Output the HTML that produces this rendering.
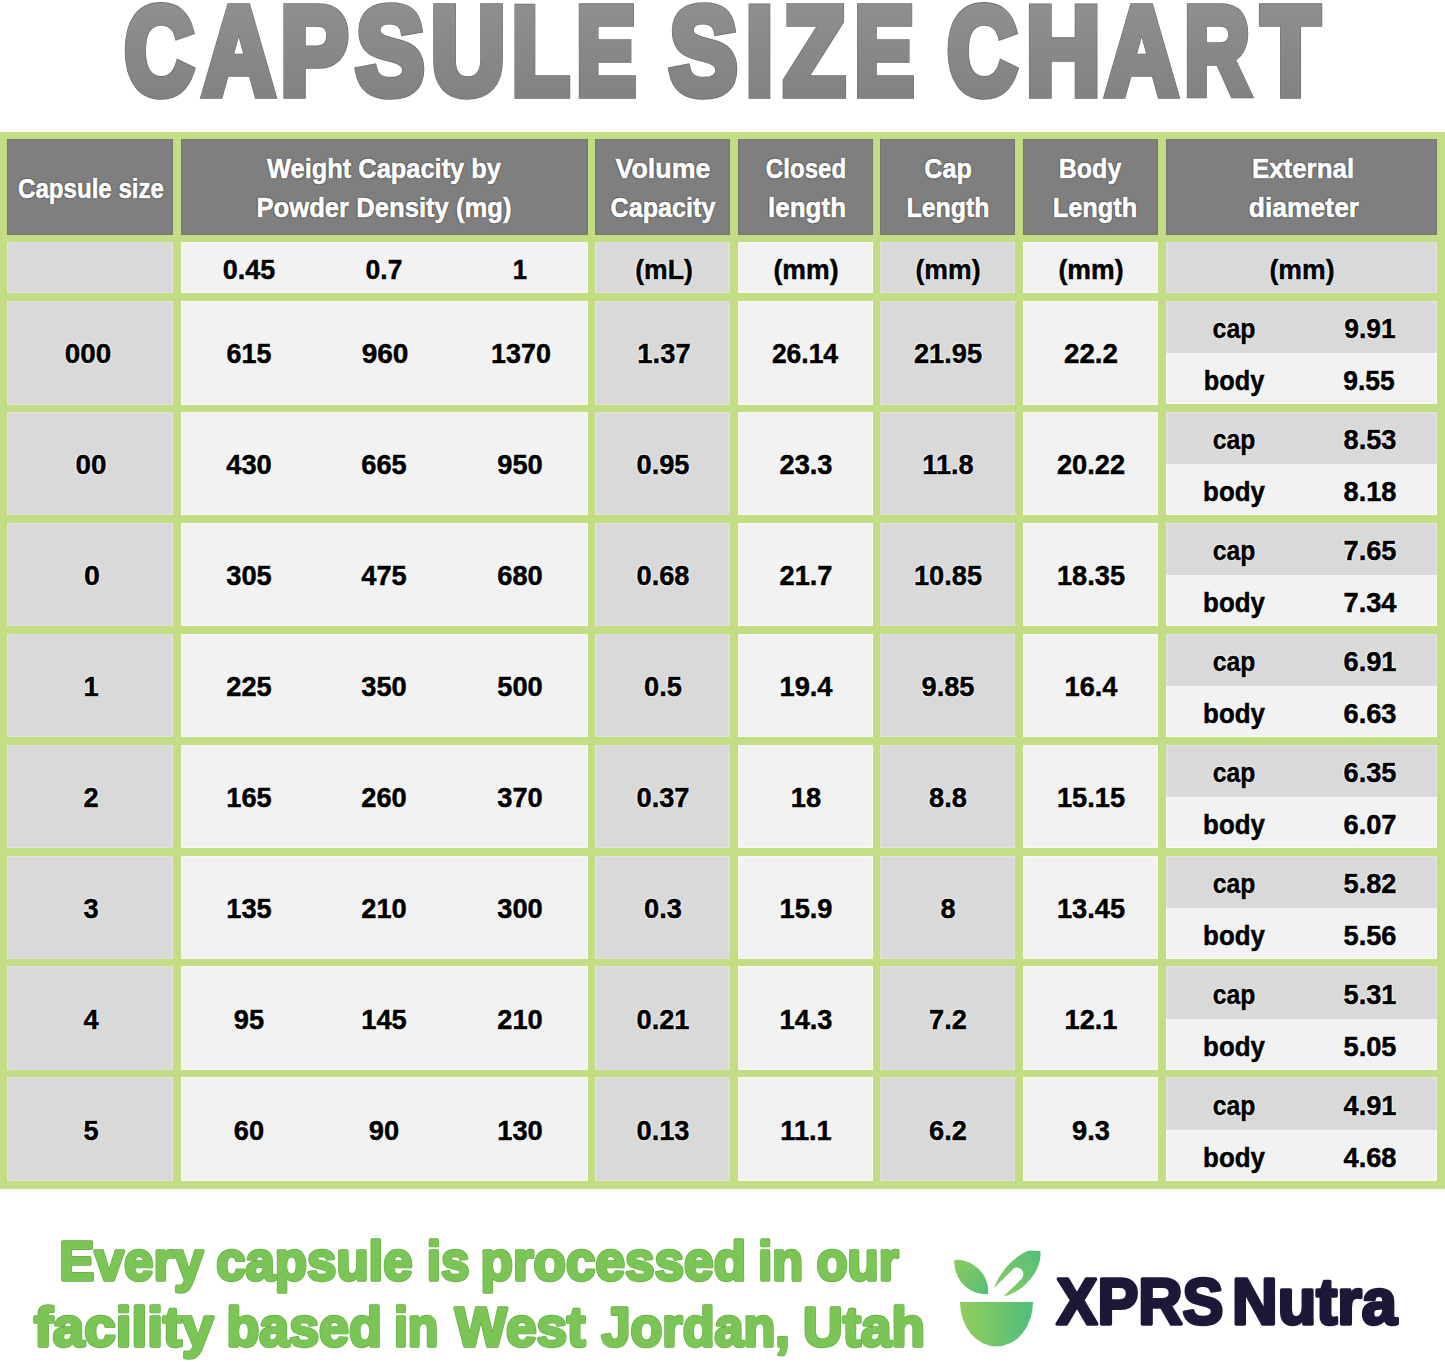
<!DOCTYPE html>
<html><head><meta charset="utf-8">
<style>
html,body{margin:0;padding:0;}
body{width:1445px;height:1362px;background:#fff;position:relative;overflow:hidden;font-family:"Liberation Sans",sans-serif;}
.r{position:absolute;}
.t{position:absolute;width:600px;height:100px;line-height:100px;text-align:center;font-weight:bold;white-space:nowrap;}
.h{color:#fff;-webkit-text-stroke:0.6px #fff;text-shadow:1px 0 1px #505050,-1px 0 1px #505050,0 1px 1px #505050,0 -1px 1px #505050;}
.d{color:#000;-webkit-text-stroke:0.5px #000;text-shadow:1px 0 1px #fff,-1px 0 1px #fff,0 1px 1px #fff,0 -1px 1px #fff;}
.ov{position:absolute;left:0;top:0;}
</style></head><body>
<div class="r" style="left:0.00px;top:132.30px;width:1445.00px;height:1056.70px;background:#c2de84;"></div>
<div class="r" style="left:7.30px;top:139.00px;width:165.70px;height:95.50px;background:#7f7f7f;box-shadow:inset 0 0 0.8px 0.6px #6c7268;"></div>
<div class="r" style="left:180.50px;top:139.00px;width:407.00px;height:95.50px;background:#7f7f7f;box-shadow:inset 0 0 0.8px 0.6px #6c7268;"></div>
<div class="r" style="left:595.00px;top:139.00px;width:135.00px;height:95.50px;background:#7f7f7f;box-shadow:inset 0 0 0.8px 0.6px #6c7268;"></div>
<div class="r" style="left:737.50px;top:139.00px;width:135.50px;height:95.50px;background:#7f7f7f;box-shadow:inset 0 0 0.8px 0.6px #6c7268;"></div>
<div class="r" style="left:880.00px;top:139.00px;width:135.00px;height:95.50px;background:#7f7f7f;box-shadow:inset 0 0 0.8px 0.6px #6c7268;"></div>
<div class="r" style="left:1023.00px;top:139.00px;width:135.00px;height:95.50px;background:#7f7f7f;box-shadow:inset 0 0 0.8px 0.6px #6c7268;"></div>
<div class="r" style="left:1165.70px;top:139.00px;width:271.00px;height:95.50px;background:#7f7f7f;box-shadow:inset 0 0 0.8px 0.6px #6c7268;"></div>
<div class="r" style="left:7.30px;top:241.50px;width:165.70px;height:51.50px;background:#d9d9d9;box-shadow:inset 0 0 1px 0.8px #e3e6dc;"></div>
<div class="r" style="left:180.50px;top:241.50px;width:407.00px;height:51.50px;background:#f2f2f2;box-shadow:inset 0 0 1px 0.8px #fafdf2;"></div>
<div class="r" style="left:595.00px;top:241.50px;width:135.00px;height:51.50px;background:#d9d9d9;box-shadow:inset 0 0 1px 0.8px #e3e6dc;"></div>
<div class="r" style="left:737.50px;top:241.50px;width:135.50px;height:51.50px;background:#f2f2f2;box-shadow:inset 0 0 1px 0.8px #fafdf2;"></div>
<div class="r" style="left:880.00px;top:241.50px;width:135.00px;height:51.50px;background:#d9d9d9;box-shadow:inset 0 0 1px 0.8px #e3e6dc;"></div>
<div class="r" style="left:1023.00px;top:241.50px;width:135.00px;height:51.50px;background:#f2f2f2;box-shadow:inset 0 0 1px 0.8px #fafdf2;"></div>
<div class="r" style="left:1165.70px;top:241.50px;width:271.00px;height:51.50px;background:#d9d9d9;box-shadow:inset 0 0 1px 0.8px #e3e6dc;"></div>
<div class="r" style="left:7.30px;top:301.00px;width:165.70px;height:103.50px;background:#d9d9d9;box-shadow:inset 0 0 1px 0.8px #e3e6dc;"></div>
<div class="r" style="left:180.50px;top:301.00px;width:407.00px;height:103.50px;background:#f2f2f2;box-shadow:inset 0 0 1px 0.8px #fafdf2;"></div>
<div class="r" style="left:595.00px;top:301.00px;width:135.00px;height:103.50px;background:#d9d9d9;box-shadow:inset 0 0 1px 0.8px #e3e6dc;"></div>
<div class="r" style="left:737.50px;top:301.00px;width:135.50px;height:103.50px;background:#f2f2f2;box-shadow:inset 0 0 1px 0.8px #fafdf2;"></div>
<div class="r" style="left:880.00px;top:301.00px;width:135.00px;height:103.50px;background:#d9d9d9;box-shadow:inset 0 0 1px 0.8px #e3e6dc;"></div>
<div class="r" style="left:1023.00px;top:301.00px;width:135.00px;height:103.50px;background:#f2f2f2;box-shadow:inset 0 0 1px 0.8px #fafdf2;"></div>
<div class="r" style="left:1165.70px;top:301.00px;width:271.00px;height:52.35px;background:#d9d9d9;box-shadow:inset 1px 1px 1px 0px #e3e6dc,inset -1px 0 1px 0px #e3e6dc;"></div>
<div class="r" style="left:1165.70px;top:353.35px;width:271.00px;height:51.15px;background:#f2f2f2;box-shadow:inset 1px -1px 1px 0px #fafdf2,inset -1px 0 1px 0px #fafdf2;"></div>
<div class="r" style="left:7.30px;top:411.90px;width:165.70px;height:103.50px;background:#d9d9d9;box-shadow:inset 0 0 1px 0.8px #e3e6dc;"></div>
<div class="r" style="left:180.50px;top:411.90px;width:407.00px;height:103.50px;background:#f2f2f2;box-shadow:inset 0 0 1px 0.8px #fafdf2;"></div>
<div class="r" style="left:595.00px;top:411.90px;width:135.00px;height:103.50px;background:#d9d9d9;box-shadow:inset 0 0 1px 0.8px #e3e6dc;"></div>
<div class="r" style="left:737.50px;top:411.90px;width:135.50px;height:103.50px;background:#f2f2f2;box-shadow:inset 0 0 1px 0.8px #fafdf2;"></div>
<div class="r" style="left:880.00px;top:411.90px;width:135.00px;height:103.50px;background:#d9d9d9;box-shadow:inset 0 0 1px 0.8px #e3e6dc;"></div>
<div class="r" style="left:1023.00px;top:411.90px;width:135.00px;height:103.50px;background:#f2f2f2;box-shadow:inset 0 0 1px 0.8px #fafdf2;"></div>
<div class="r" style="left:1165.70px;top:411.90px;width:271.00px;height:52.35px;background:#d9d9d9;box-shadow:inset 1px 1px 1px 0px #e3e6dc,inset -1px 0 1px 0px #e3e6dc;"></div>
<div class="r" style="left:1165.70px;top:464.25px;width:271.00px;height:51.15px;background:#f2f2f2;box-shadow:inset 1px -1px 1px 0px #fafdf2,inset -1px 0 1px 0px #fafdf2;"></div>
<div class="r" style="left:7.30px;top:522.80px;width:165.70px;height:103.50px;background:#d9d9d9;box-shadow:inset 0 0 1px 0.8px #e3e6dc;"></div>
<div class="r" style="left:180.50px;top:522.80px;width:407.00px;height:103.50px;background:#f2f2f2;box-shadow:inset 0 0 1px 0.8px #fafdf2;"></div>
<div class="r" style="left:595.00px;top:522.80px;width:135.00px;height:103.50px;background:#d9d9d9;box-shadow:inset 0 0 1px 0.8px #e3e6dc;"></div>
<div class="r" style="left:737.50px;top:522.80px;width:135.50px;height:103.50px;background:#f2f2f2;box-shadow:inset 0 0 1px 0.8px #fafdf2;"></div>
<div class="r" style="left:880.00px;top:522.80px;width:135.00px;height:103.50px;background:#d9d9d9;box-shadow:inset 0 0 1px 0.8px #e3e6dc;"></div>
<div class="r" style="left:1023.00px;top:522.80px;width:135.00px;height:103.50px;background:#f2f2f2;box-shadow:inset 0 0 1px 0.8px #fafdf2;"></div>
<div class="r" style="left:1165.70px;top:522.80px;width:271.00px;height:52.35px;background:#d9d9d9;box-shadow:inset 1px 1px 1px 0px #e3e6dc,inset -1px 0 1px 0px #e3e6dc;"></div>
<div class="r" style="left:1165.70px;top:575.15px;width:271.00px;height:51.15px;background:#f2f2f2;box-shadow:inset 1px -1px 1px 0px #fafdf2,inset -1px 0 1px 0px #fafdf2;"></div>
<div class="r" style="left:7.30px;top:633.70px;width:165.70px;height:103.50px;background:#d9d9d9;box-shadow:inset 0 0 1px 0.8px #e3e6dc;"></div>
<div class="r" style="left:180.50px;top:633.70px;width:407.00px;height:103.50px;background:#f2f2f2;box-shadow:inset 0 0 1px 0.8px #fafdf2;"></div>
<div class="r" style="left:595.00px;top:633.70px;width:135.00px;height:103.50px;background:#d9d9d9;box-shadow:inset 0 0 1px 0.8px #e3e6dc;"></div>
<div class="r" style="left:737.50px;top:633.70px;width:135.50px;height:103.50px;background:#f2f2f2;box-shadow:inset 0 0 1px 0.8px #fafdf2;"></div>
<div class="r" style="left:880.00px;top:633.70px;width:135.00px;height:103.50px;background:#d9d9d9;box-shadow:inset 0 0 1px 0.8px #e3e6dc;"></div>
<div class="r" style="left:1023.00px;top:633.70px;width:135.00px;height:103.50px;background:#f2f2f2;box-shadow:inset 0 0 1px 0.8px #fafdf2;"></div>
<div class="r" style="left:1165.70px;top:633.70px;width:271.00px;height:52.35px;background:#d9d9d9;box-shadow:inset 1px 1px 1px 0px #e3e6dc,inset -1px 0 1px 0px #e3e6dc;"></div>
<div class="r" style="left:1165.70px;top:686.05px;width:271.00px;height:51.15px;background:#f2f2f2;box-shadow:inset 1px -1px 1px 0px #fafdf2,inset -1px 0 1px 0px #fafdf2;"></div>
<div class="r" style="left:7.30px;top:744.60px;width:165.70px;height:103.50px;background:#d9d9d9;box-shadow:inset 0 0 1px 0.8px #e3e6dc;"></div>
<div class="r" style="left:180.50px;top:744.60px;width:407.00px;height:103.50px;background:#f2f2f2;box-shadow:inset 0 0 1px 0.8px #fafdf2;"></div>
<div class="r" style="left:595.00px;top:744.60px;width:135.00px;height:103.50px;background:#d9d9d9;box-shadow:inset 0 0 1px 0.8px #e3e6dc;"></div>
<div class="r" style="left:737.50px;top:744.60px;width:135.50px;height:103.50px;background:#f2f2f2;box-shadow:inset 0 0 1px 0.8px #fafdf2;"></div>
<div class="r" style="left:880.00px;top:744.60px;width:135.00px;height:103.50px;background:#d9d9d9;box-shadow:inset 0 0 1px 0.8px #e3e6dc;"></div>
<div class="r" style="left:1023.00px;top:744.60px;width:135.00px;height:103.50px;background:#f2f2f2;box-shadow:inset 0 0 1px 0.8px #fafdf2;"></div>
<div class="r" style="left:1165.70px;top:744.60px;width:271.00px;height:52.35px;background:#d9d9d9;box-shadow:inset 1px 1px 1px 0px #e3e6dc,inset -1px 0 1px 0px #e3e6dc;"></div>
<div class="r" style="left:1165.70px;top:796.95px;width:271.00px;height:51.15px;background:#f2f2f2;box-shadow:inset 1px -1px 1px 0px #fafdf2,inset -1px 0 1px 0px #fafdf2;"></div>
<div class="r" style="left:7.30px;top:855.50px;width:165.70px;height:103.50px;background:#d9d9d9;box-shadow:inset 0 0 1px 0.8px #e3e6dc;"></div>
<div class="r" style="left:180.50px;top:855.50px;width:407.00px;height:103.50px;background:#f2f2f2;box-shadow:inset 0 0 1px 0.8px #fafdf2;"></div>
<div class="r" style="left:595.00px;top:855.50px;width:135.00px;height:103.50px;background:#d9d9d9;box-shadow:inset 0 0 1px 0.8px #e3e6dc;"></div>
<div class="r" style="left:737.50px;top:855.50px;width:135.50px;height:103.50px;background:#f2f2f2;box-shadow:inset 0 0 1px 0.8px #fafdf2;"></div>
<div class="r" style="left:880.00px;top:855.50px;width:135.00px;height:103.50px;background:#d9d9d9;box-shadow:inset 0 0 1px 0.8px #e3e6dc;"></div>
<div class="r" style="left:1023.00px;top:855.50px;width:135.00px;height:103.50px;background:#f2f2f2;box-shadow:inset 0 0 1px 0.8px #fafdf2;"></div>
<div class="r" style="left:1165.70px;top:855.50px;width:271.00px;height:52.35px;background:#d9d9d9;box-shadow:inset 1px 1px 1px 0px #e3e6dc,inset -1px 0 1px 0px #e3e6dc;"></div>
<div class="r" style="left:1165.70px;top:907.85px;width:271.00px;height:51.15px;background:#f2f2f2;box-shadow:inset 1px -1px 1px 0px #fafdf2,inset -1px 0 1px 0px #fafdf2;"></div>
<div class="r" style="left:7.30px;top:966.40px;width:165.70px;height:103.50px;background:#d9d9d9;box-shadow:inset 0 0 1px 0.8px #e3e6dc;"></div>
<div class="r" style="left:180.50px;top:966.40px;width:407.00px;height:103.50px;background:#f2f2f2;box-shadow:inset 0 0 1px 0.8px #fafdf2;"></div>
<div class="r" style="left:595.00px;top:966.40px;width:135.00px;height:103.50px;background:#d9d9d9;box-shadow:inset 0 0 1px 0.8px #e3e6dc;"></div>
<div class="r" style="left:737.50px;top:966.40px;width:135.50px;height:103.50px;background:#f2f2f2;box-shadow:inset 0 0 1px 0.8px #fafdf2;"></div>
<div class="r" style="left:880.00px;top:966.40px;width:135.00px;height:103.50px;background:#d9d9d9;box-shadow:inset 0 0 1px 0.8px #e3e6dc;"></div>
<div class="r" style="left:1023.00px;top:966.40px;width:135.00px;height:103.50px;background:#f2f2f2;box-shadow:inset 0 0 1px 0.8px #fafdf2;"></div>
<div class="r" style="left:1165.70px;top:966.40px;width:271.00px;height:52.35px;background:#d9d9d9;box-shadow:inset 1px 1px 1px 0px #e3e6dc,inset -1px 0 1px 0px #e3e6dc;"></div>
<div class="r" style="left:1165.70px;top:1018.75px;width:271.00px;height:51.15px;background:#f2f2f2;box-shadow:inset 1px -1px 1px 0px #fafdf2,inset -1px 0 1px 0px #fafdf2;"></div>
<div class="r" style="left:7.30px;top:1077.30px;width:165.70px;height:103.50px;background:#d9d9d9;box-shadow:inset 0 0 1px 0.8px #e3e6dc;"></div>
<div class="r" style="left:180.50px;top:1077.30px;width:407.00px;height:103.50px;background:#f2f2f2;box-shadow:inset 0 0 1px 0.8px #fafdf2;"></div>
<div class="r" style="left:595.00px;top:1077.30px;width:135.00px;height:103.50px;background:#d9d9d9;box-shadow:inset 0 0 1px 0.8px #e3e6dc;"></div>
<div class="r" style="left:737.50px;top:1077.30px;width:135.50px;height:103.50px;background:#f2f2f2;box-shadow:inset 0 0 1px 0.8px #fafdf2;"></div>
<div class="r" style="left:880.00px;top:1077.30px;width:135.00px;height:103.50px;background:#d9d9d9;box-shadow:inset 0 0 1px 0.8px #e3e6dc;"></div>
<div class="r" style="left:1023.00px;top:1077.30px;width:135.00px;height:103.50px;background:#f2f2f2;box-shadow:inset 0 0 1px 0.8px #fafdf2;"></div>
<div class="r" style="left:1165.70px;top:1077.30px;width:271.00px;height:52.35px;background:#d9d9d9;box-shadow:inset 1px 1px 1px 0px #e3e6dc,inset -1px 0 1px 0px #e3e6dc;"></div>
<div class="r" style="left:1165.70px;top:1129.65px;width:271.00px;height:51.15px;background:#f2f2f2;box-shadow:inset 1px -1px 1px 0px #fafdf2,inset -1px 0 1px 0px #fafdf2;"></div>
<div class="t h" style="left:-209.20px;top:138.70px;font-size:28px;transform:scaleX(0.8600)">Capsule size</div>
<div class="t h" style="left:84.35px;top:118.60px;font-size:28px;transform:scaleX(0.9074)">Weight Capacity by</div>
<div class="t h" style="left:84.15px;top:158.10px;font-size:28px;transform:scaleX(0.9157)">Powder Density (mg)</div>
<div class="t h" style="left:363.00px;top:118.60px;font-size:28px;transform:scaleX(0.9574)">Volume</div>
<div class="t h" style="left:362.65px;top:158.10px;font-size:28px;transform:scaleX(0.8977)">Capacity</div>
<div class="t h" style="left:505.80px;top:118.60px;font-size:28px;transform:scaleX(0.8613)">Closed</div>
<div class="t h" style="left:506.55px;top:158.10px;font-size:28px;transform:scaleX(0.9303)">length</div>
<div class="t h" style="left:648.25px;top:118.60px;font-size:28px;transform:scaleX(0.9000)">Cap</div>
<div class="t h" style="left:647.90px;top:158.10px;font-size:28px;transform:scaleX(0.8896)">Length</div>
<div class="t h" style="left:790.20px;top:118.60px;font-size:28px;transform:scaleX(0.8944)">Body</div>
<div class="t h" style="left:794.70px;top:158.10px;font-size:28px;transform:scaleX(0.9071)">Length</div>
<div class="t h" style="left:1002.70px;top:118.60px;font-size:28px;transform:scaleX(0.9248)">External</div>
<div class="t h" style="left:1003.95px;top:158.10px;font-size:28px;transform:scaleX(0.9448)">diameter</div>
<div class="t d" style="left:-51.00px;top:220.20px;font-size:27.5px;transform:scaleX(0.9792)">0.45</div>
<div class="t d" style="left:83.95px;top:220.20px;font-size:27.5px;transform:scaleX(0.9645)">0.7</div>
<div class="t d" style="left:220.05px;top:220.20px;font-size:27.5px;transform:scaleX(0.9355)">1</div>
<div class="t d" style="left:364.30px;top:220.20px;font-size:27.5px;transform:scaleX(0.9647)">(mL)</div>
<div class="t d" style="left:505.75px;top:220.20px;font-size:27.5px;transform:scaleX(0.9670)">(mm)</div>
<div class="t d" style="left:648.00px;top:220.20px;font-size:27.5px;transform:scaleX(0.9670)">(mm)</div>
<div class="t d" style="left:791.00px;top:220.20px;font-size:27.5px;transform:scaleX(0.9670)">(mm)</div>
<div class="t d" style="left:1001.70px;top:220.20px;font-size:27.5px;transform:scaleX(0.9670)">(mm)</div>
<div class="t d" style="left:-212.00px;top:304.35px;font-size:27.5px;transform:scaleX(1.0113)">000</div>
<div class="t d" style="left:-51.45px;top:304.35px;font-size:27.5px;transform:scaleX(0.9776)">615</div>
<div class="t d" style="left:85.05px;top:304.35px;font-size:27.5px;transform:scaleX(1.0182)">960</div>
<div class="t d" style="left:220.70px;top:304.35px;font-size:27.5px;transform:scaleX(0.9774)">1370</div>
<div class="t d" style="left:364.10px;top:304.35px;font-size:27.5px;transform:scaleX(0.9955)">1.37</div>
<div class="t d" style="left:505.30px;top:304.35px;font-size:27.5px;transform:scaleX(0.9616)">26.14</div>
<div class="t d" style="left:648.25px;top:304.35px;font-size:27.5px;transform:scaleX(0.9893)">21.95</div>
<div class="t d" style="left:791.30px;top:304.35px;font-size:27.5px;transform:scaleX(1.0106)">22.2</div>
<div class="t d" style="left:934.35px;top:279.38px;font-size:27.5px;transform:scaleX(0.9021)">cap</div>
<div class="t d" style="left:1070.00px;top:279.38px;font-size:27.5px;transform:scaleX(0.9600)">9.91</div>
<div class="t d" style="left:934.00px;top:331.23px;font-size:27.5px;transform:scaleX(0.9197)">body</div>
<div class="t d" style="left:1069.00px;top:331.23px;font-size:27.5px;transform:scaleX(0.9607)">9.55</div>
<div class="t d" style="left:-208.90px;top:415.25px;font-size:27.5px;transform:scaleX(1.0084)">00</div>
<div class="t d" style="left:-50.80px;top:415.25px;font-size:27.5px;transform:scaleX(0.9900)">430</div>
<div class="t d" style="left:84.30px;top:415.25px;font-size:27.5px;transform:scaleX(0.9900)">665</div>
<div class="t d" style="left:220.20px;top:415.25px;font-size:27.5px;transform:scaleX(0.9900)">950</div>
<div class="t d" style="left:363.00px;top:415.25px;font-size:27.5px;transform:scaleX(0.9900)">0.95</div>
<div class="t d" style="left:505.75px;top:415.25px;font-size:27.5px;transform:scaleX(0.9900)">23.3</div>
<div class="t d" style="left:648.00px;top:415.25px;font-size:27.5px;transform:scaleX(0.9900)">11.8</div>
<div class="t d" style="left:791.00px;top:415.25px;font-size:27.5px;transform:scaleX(0.9900)">20.22</div>
<div class="t d" style="left:934.40px;top:390.27px;font-size:27.5px;transform:scaleX(0.8970)">cap</div>
<div class="t d" style="left:1070.00px;top:390.27px;font-size:27.5px;transform:scaleX(0.9900)">8.53</div>
<div class="t d" style="left:933.50px;top:442.12px;font-size:27.5px;transform:scaleX(0.9410)">body</div>
<div class="t d" style="left:1070.00px;top:442.12px;font-size:27.5px;transform:scaleX(0.9900)">8.18</div>
<div class="t d" style="left:-208.05px;top:526.15px;font-size:27.5px;transform:scaleX(1.0392)">0</div>
<div class="t d" style="left:-50.80px;top:526.15px;font-size:27.5px;transform:scaleX(0.9900)">305</div>
<div class="t d" style="left:84.30px;top:526.15px;font-size:27.5px;transform:scaleX(0.9900)">475</div>
<div class="t d" style="left:220.20px;top:526.15px;font-size:27.5px;transform:scaleX(0.9900)">680</div>
<div class="t d" style="left:363.00px;top:526.15px;font-size:27.5px;transform:scaleX(0.9900)">0.68</div>
<div class="t d" style="left:505.75px;top:526.15px;font-size:27.5px;transform:scaleX(0.9900)">21.7</div>
<div class="t d" style="left:648.00px;top:526.15px;font-size:27.5px;transform:scaleX(0.9900)">10.85</div>
<div class="t d" style="left:791.00px;top:526.15px;font-size:27.5px;transform:scaleX(0.9900)">18.35</div>
<div class="t d" style="left:934.40px;top:501.17px;font-size:27.5px;transform:scaleX(0.8970)">cap</div>
<div class="t d" style="left:1070.00px;top:501.17px;font-size:27.5px;transform:scaleX(0.9900)">7.65</div>
<div class="t d" style="left:933.50px;top:553.02px;font-size:27.5px;transform:scaleX(0.9410)">body</div>
<div class="t d" style="left:1070.00px;top:553.02px;font-size:27.5px;transform:scaleX(0.9900)">7.34</div>
<div class="t d" style="left:-208.85px;top:637.05px;font-size:27.5px;transform:scaleX(0.9900)">1</div>
<div class="t d" style="left:-50.80px;top:637.05px;font-size:27.5px;transform:scaleX(0.9900)">225</div>
<div class="t d" style="left:84.30px;top:637.05px;font-size:27.5px;transform:scaleX(0.9900)">350</div>
<div class="t d" style="left:220.20px;top:637.05px;font-size:27.5px;transform:scaleX(0.9900)">500</div>
<div class="t d" style="left:363.00px;top:637.05px;font-size:27.5px;transform:scaleX(0.9900)">0.5</div>
<div class="t d" style="left:505.75px;top:637.05px;font-size:27.5px;transform:scaleX(0.9900)">19.4</div>
<div class="t d" style="left:648.00px;top:637.05px;font-size:27.5px;transform:scaleX(0.9900)">9.85</div>
<div class="t d" style="left:791.00px;top:637.05px;font-size:27.5px;transform:scaleX(0.9900)">16.4</div>
<div class="t d" style="left:934.40px;top:612.08px;font-size:27.5px;transform:scaleX(0.8970)">cap</div>
<div class="t d" style="left:1070.00px;top:612.08px;font-size:27.5px;transform:scaleX(0.9900)">6.91</div>
<div class="t d" style="left:933.50px;top:663.93px;font-size:27.5px;transform:scaleX(0.9410)">body</div>
<div class="t d" style="left:1070.00px;top:663.93px;font-size:27.5px;transform:scaleX(0.9900)">6.63</div>
<div class="t d" style="left:-208.85px;top:747.95px;font-size:27.5px;transform:scaleX(0.9900)">2</div>
<div class="t d" style="left:-50.80px;top:747.95px;font-size:27.5px;transform:scaleX(0.9900)">165</div>
<div class="t d" style="left:84.30px;top:747.95px;font-size:27.5px;transform:scaleX(0.9900)">260</div>
<div class="t d" style="left:220.20px;top:747.95px;font-size:27.5px;transform:scaleX(0.9900)">370</div>
<div class="t d" style="left:363.00px;top:747.95px;font-size:27.5px;transform:scaleX(0.9900)">0.37</div>
<div class="t d" style="left:505.75px;top:747.95px;font-size:27.5px;transform:scaleX(0.9900)">18</div>
<div class="t d" style="left:648.00px;top:747.95px;font-size:27.5px;transform:scaleX(0.9900)">8.8</div>
<div class="t d" style="left:791.00px;top:747.95px;font-size:27.5px;transform:scaleX(0.9900)">15.15</div>
<div class="t d" style="left:934.40px;top:722.98px;font-size:27.5px;transform:scaleX(0.8970)">cap</div>
<div class="t d" style="left:1070.00px;top:722.98px;font-size:27.5px;transform:scaleX(0.9900)">6.35</div>
<div class="t d" style="left:933.50px;top:774.83px;font-size:27.5px;transform:scaleX(0.9410)">body</div>
<div class="t d" style="left:1070.00px;top:774.83px;font-size:27.5px;transform:scaleX(0.9900)">6.07</div>
<div class="t d" style="left:-208.85px;top:858.85px;font-size:27.5px;transform:scaleX(0.9900)">3</div>
<div class="t d" style="left:-50.80px;top:858.85px;font-size:27.5px;transform:scaleX(0.9900)">135</div>
<div class="t d" style="left:84.30px;top:858.85px;font-size:27.5px;transform:scaleX(0.9900)">210</div>
<div class="t d" style="left:220.20px;top:858.85px;font-size:27.5px;transform:scaleX(0.9900)">300</div>
<div class="t d" style="left:363.00px;top:858.85px;font-size:27.5px;transform:scaleX(0.9900)">0.3</div>
<div class="t d" style="left:505.75px;top:858.85px;font-size:27.5px;transform:scaleX(0.9900)">15.9</div>
<div class="t d" style="left:648.00px;top:858.85px;font-size:27.5px;transform:scaleX(0.9900)">8</div>
<div class="t d" style="left:791.00px;top:858.85px;font-size:27.5px;transform:scaleX(0.9900)">13.45</div>
<div class="t d" style="left:934.40px;top:833.88px;font-size:27.5px;transform:scaleX(0.8970)">cap</div>
<div class="t d" style="left:1070.00px;top:833.88px;font-size:27.5px;transform:scaleX(0.9900)">5.82</div>
<div class="t d" style="left:933.50px;top:885.73px;font-size:27.5px;transform:scaleX(0.9410)">body</div>
<div class="t d" style="left:1070.00px;top:885.73px;font-size:27.5px;transform:scaleX(0.9900)">5.56</div>
<div class="t d" style="left:-208.85px;top:969.75px;font-size:27.5px;transform:scaleX(0.9900)">4</div>
<div class="t d" style="left:-50.80px;top:969.75px;font-size:27.5px;transform:scaleX(0.9900)">95</div>
<div class="t d" style="left:84.30px;top:969.75px;font-size:27.5px;transform:scaleX(0.9900)">145</div>
<div class="t d" style="left:220.20px;top:969.75px;font-size:27.5px;transform:scaleX(0.9900)">210</div>
<div class="t d" style="left:363.00px;top:969.75px;font-size:27.5px;transform:scaleX(0.9900)">0.21</div>
<div class="t d" style="left:505.75px;top:969.75px;font-size:27.5px;transform:scaleX(0.9900)">14.3</div>
<div class="t d" style="left:648.00px;top:969.75px;font-size:27.5px;transform:scaleX(0.9900)">7.2</div>
<div class="t d" style="left:791.00px;top:969.75px;font-size:27.5px;transform:scaleX(0.9900)">12.1</div>
<div class="t d" style="left:934.40px;top:944.78px;font-size:27.5px;transform:scaleX(0.8970)">cap</div>
<div class="t d" style="left:1070.00px;top:944.78px;font-size:27.5px;transform:scaleX(0.9900)">5.31</div>
<div class="t d" style="left:933.50px;top:996.62px;font-size:27.5px;transform:scaleX(0.9410)">body</div>
<div class="t d" style="left:1070.00px;top:996.62px;font-size:27.5px;transform:scaleX(0.9900)">5.05</div>
<div class="t d" style="left:-208.85px;top:1080.65px;font-size:27.5px;transform:scaleX(0.9900)">5</div>
<div class="t d" style="left:-50.80px;top:1080.65px;font-size:27.5px;transform:scaleX(0.9900)">60</div>
<div class="t d" style="left:84.30px;top:1080.65px;font-size:27.5px;transform:scaleX(0.9900)">90</div>
<div class="t d" style="left:220.20px;top:1080.65px;font-size:27.5px;transform:scaleX(0.9900)">130</div>
<div class="t d" style="left:363.00px;top:1080.65px;font-size:27.5px;transform:scaleX(0.9900)">0.13</div>
<div class="t d" style="left:505.75px;top:1080.65px;font-size:27.5px;transform:scaleX(0.9900)">11.1</div>
<div class="t d" style="left:648.00px;top:1080.65px;font-size:27.5px;transform:scaleX(0.9900)">6.2</div>
<div class="t d" style="left:791.00px;top:1080.65px;font-size:27.5px;transform:scaleX(0.9900)">9.3</div>
<div class="t d" style="left:934.40px;top:1055.68px;font-size:27.5px;transform:scaleX(0.8970)">cap</div>
<div class="t d" style="left:1070.00px;top:1055.68px;font-size:27.5px;transform:scaleX(0.9900)">4.91</div>
<div class="t d" style="left:933.50px;top:1107.53px;font-size:27.5px;transform:scaleX(0.9410)">body</div>
<div class="t d" style="left:1070.00px;top:1107.53px;font-size:27.5px;transform:scaleX(0.9900)">4.68</div>
<svg class="ov" width="1445" height="1362" viewBox="0 0 1445 1362">
<defs>
<linearGradient id="tg" gradientUnits="userSpaceOnUse" x1="0" y1="-92" x2="0" y2="4"><stop offset="0" stop-color="#8f8f8f"/><stop offset="1" stop-color="#828282"/></linearGradient>
<linearGradient id="lg" x1="0" y1="0" x2="1" y2="0">
<stop offset="0" stop-color="#93cd5b"/><stop offset="1" stop-color="#4fbe7c"/>
</linearGradient>
<linearGradient id="lg2" x1="0" y1="0" x2="1" y2="1">
<stop offset="0" stop-color="#8fcc5c"/><stop offset="1" stop-color="#52bf7a"/>
</linearGradient>
<linearGradient id="lg3" x1="0" y1="1" x2="1" y2="0">
<stop offset="0" stop-color="#8fcc5c"/><stop offset="1" stop-color="#52bf7a"/>
</linearGradient>
</defs>
<g font-family="Liberation Sans" font-weight="bold" fill="#6f6f6f" stroke="#6f6f6f" stroke-width="9.6" stroke-linejoin="miter" style="vector-effect:non-scaling-stroke"><text transform="translate(124.57,94.30) scale(0.7651,1)" font-size="125.15">C</text><text transform="translate(202.82,94.30) scale(0.7956,1)" font-size="125.15">A</text><text transform="translate(280.52,94.30) scale(0.8105,1)" font-size="125.15">P</text><text transform="translate(356.05,94.30) scale(0.8189,1)" font-size="125.15">S</text><text transform="translate(431.03,94.30) scale(0.8216,1)" font-size="125.15">U</text><text transform="translate(511.68,94.30) scale(0.7552,1)" font-size="125.15">L</text><text transform="translate(576.31,94.30) scale(0.7150,1)" font-size="125.15">E</text><text transform="translate(669.47,94.30) scale(0.8136,1)" font-size="125.15">S</text><text transform="translate(745.81,94.30) scale(0.7877,1)" font-size="125.15">I</text><text transform="translate(783.50,94.30) scale(0.8059,1)" font-size="125.15">Z</text><text transform="translate(854.43,94.30) scale(0.7136,1)" font-size="125.15">E</text><text transform="translate(947.24,94.30) scale(0.7712,1)" font-size="125.15">C</text><text transform="translate(1026.00,94.30) scale(0.8237,1)" font-size="125.15">H</text><text transform="translate(1105.72,94.30) scale(0.7944,1)" font-size="125.15">A</text><text transform="translate(1184.33,94.30) scale(0.7251,1)" font-size="125.15">R</text><text transform="translate(1261.53,94.30) scale(0.7599,1)" font-size="125.15">T</text></g><g font-family="Liberation Sans" font-weight="bold" fill="url(#tg)" stroke="url(#tg)" stroke-width="8" stroke-linejoin="miter" style="vector-effect:non-scaling-stroke"><text transform="translate(124.57,94.30) scale(0.7651,1)" font-size="125.15">C</text><text transform="translate(202.82,94.30) scale(0.7956,1)" font-size="125.15">A</text><text transform="translate(280.52,94.30) scale(0.8105,1)" font-size="125.15">P</text><text transform="translate(356.05,94.30) scale(0.8189,1)" font-size="125.15">S</text><text transform="translate(431.03,94.30) scale(0.8216,1)" font-size="125.15">U</text><text transform="translate(511.68,94.30) scale(0.7552,1)" font-size="125.15">L</text><text transform="translate(576.31,94.30) scale(0.7150,1)" font-size="125.15">E</text><text transform="translate(669.47,94.30) scale(0.8136,1)" font-size="125.15">S</text><text transform="translate(745.81,94.30) scale(0.7877,1)" font-size="125.15">I</text><text transform="translate(783.50,94.30) scale(0.8059,1)" font-size="125.15">Z</text><text transform="translate(854.43,94.30) scale(0.7136,1)" font-size="125.15">E</text><text transform="translate(947.24,94.30) scale(0.7712,1)" font-size="125.15">C</text><text transform="translate(1026.00,94.30) scale(0.8237,1)" font-size="125.15">H</text><text transform="translate(1105.72,94.30) scale(0.7944,1)" font-size="125.15">A</text><text transform="translate(1184.33,94.30) scale(0.7251,1)" font-size="125.15">R</text><text transform="translate(1261.53,94.30) scale(0.7599,1)" font-size="125.15">T</text></g>
<g font-family="Liberation Sans" font-weight="bold" font-size="55.5" fill="#62ad42" stroke="#62ad42" stroke-width="3.4" stroke-linejoin="round"><text x="59.30" y="1280.25" textLength="144.11" lengthAdjust="spacingAndGlyphs">Every</text><text x="216.20" y="1280.25" textLength="196.41" lengthAdjust="spacingAndGlyphs">capsule</text><text x="426.80" y="1280.25" textLength="42.76" lengthAdjust="spacingAndGlyphs">is</text><text x="480.50" y="1280.25" textLength="265.57" lengthAdjust="spacingAndGlyphs">processed</text><text x="758.20" y="1280.25" textLength="45.06" lengthAdjust="spacingAndGlyphs">in</text><text x="816.40" y="1280.25" textLength="82.21" lengthAdjust="spacingAndGlyphs">our</text><text x="33.90" y="1346.35" textLength="179.52" lengthAdjust="spacingAndGlyphs">facility</text><text x="226.50" y="1346.35" textLength="155.22" lengthAdjust="spacingAndGlyphs">based</text><text x="393.90" y="1346.35" textLength="44.48" lengthAdjust="spacingAndGlyphs">in</text><text x="455.00" y="1346.35" textLength="130.45" lengthAdjust="spacingAndGlyphs">West</text><text x="601.50" y="1346.35" textLength="188.32" lengthAdjust="spacingAndGlyphs">Jordan,</text><text x="803.10" y="1346.35" textLength="121.88" lengthAdjust="spacingAndGlyphs">Utah</text></g><g font-family="Liberation Sans" font-weight="bold" font-size="55.5" fill="#7bc556" stroke="#7bc556" stroke-width="2.0" stroke-linejoin="round"><text x="59.30" y="1280.25" textLength="144.11" lengthAdjust="spacingAndGlyphs">Every</text><text x="216.20" y="1280.25" textLength="196.41" lengthAdjust="spacingAndGlyphs">capsule</text><text x="426.80" y="1280.25" textLength="42.76" lengthAdjust="spacingAndGlyphs">is</text><text x="480.50" y="1280.25" textLength="265.57" lengthAdjust="spacingAndGlyphs">processed</text><text x="758.20" y="1280.25" textLength="45.06" lengthAdjust="spacingAndGlyphs">in</text><text x="816.40" y="1280.25" textLength="82.21" lengthAdjust="spacingAndGlyphs">our</text><text x="33.90" y="1346.35" textLength="179.52" lengthAdjust="spacingAndGlyphs">facility</text><text x="226.50" y="1346.35" textLength="155.22" lengthAdjust="spacingAndGlyphs">based</text><text x="393.90" y="1346.35" textLength="44.48" lengthAdjust="spacingAndGlyphs">in</text><text x="455.00" y="1346.35" textLength="130.45" lengthAdjust="spacingAndGlyphs">West</text><text x="601.50" y="1346.35" textLength="188.32" lengthAdjust="spacingAndGlyphs">Jordan,</text><text x="803.10" y="1346.35" textLength="121.88" lengthAdjust="spacingAndGlyphs">Utah</text></g>
<g font-family="Liberation Sans" font-weight="bold" fill="#1b1937" stroke="#1b1937" stroke-width="3.5" stroke-linejoin="round">
<text x="1056.5" y="1324.2" font-size="64.7" textLength="167" lengthAdjust="spacingAndGlyphs">XPRS</text>
<text x="1232" y="1324.2" font-size="64.7" textLength="165" lengthAdjust="spacingAndGlyphs">Nutra</text>
</g>
<g>
<path d="M960,1302 H1033 A36.5,44.5 0 0 1 960,1302 Z" fill="url(#lg)"/>
<path d="M954.2,1259.9 C972.9,1258.1 989.9,1275.1 988.1,1294.1 C969.1,1294.9 954.1,1280.9 954.2,1259.9 Z" fill="url(#lg2)"/>
<path d="M994,1287.9 C999,1274 1012,1257 1029,1250.6 L1040.3,1250.9 C1043,1268 1025,1292 1003.4,1296.6 L1021.5,1279 C1024.5,1275.5 1023.5,1270 1019.5,1268 C1017.5,1267 1015,1267.5 1013.5,1268.8 Z" fill="url(#lg3)"/>
</g>
</svg>
</body></html>
